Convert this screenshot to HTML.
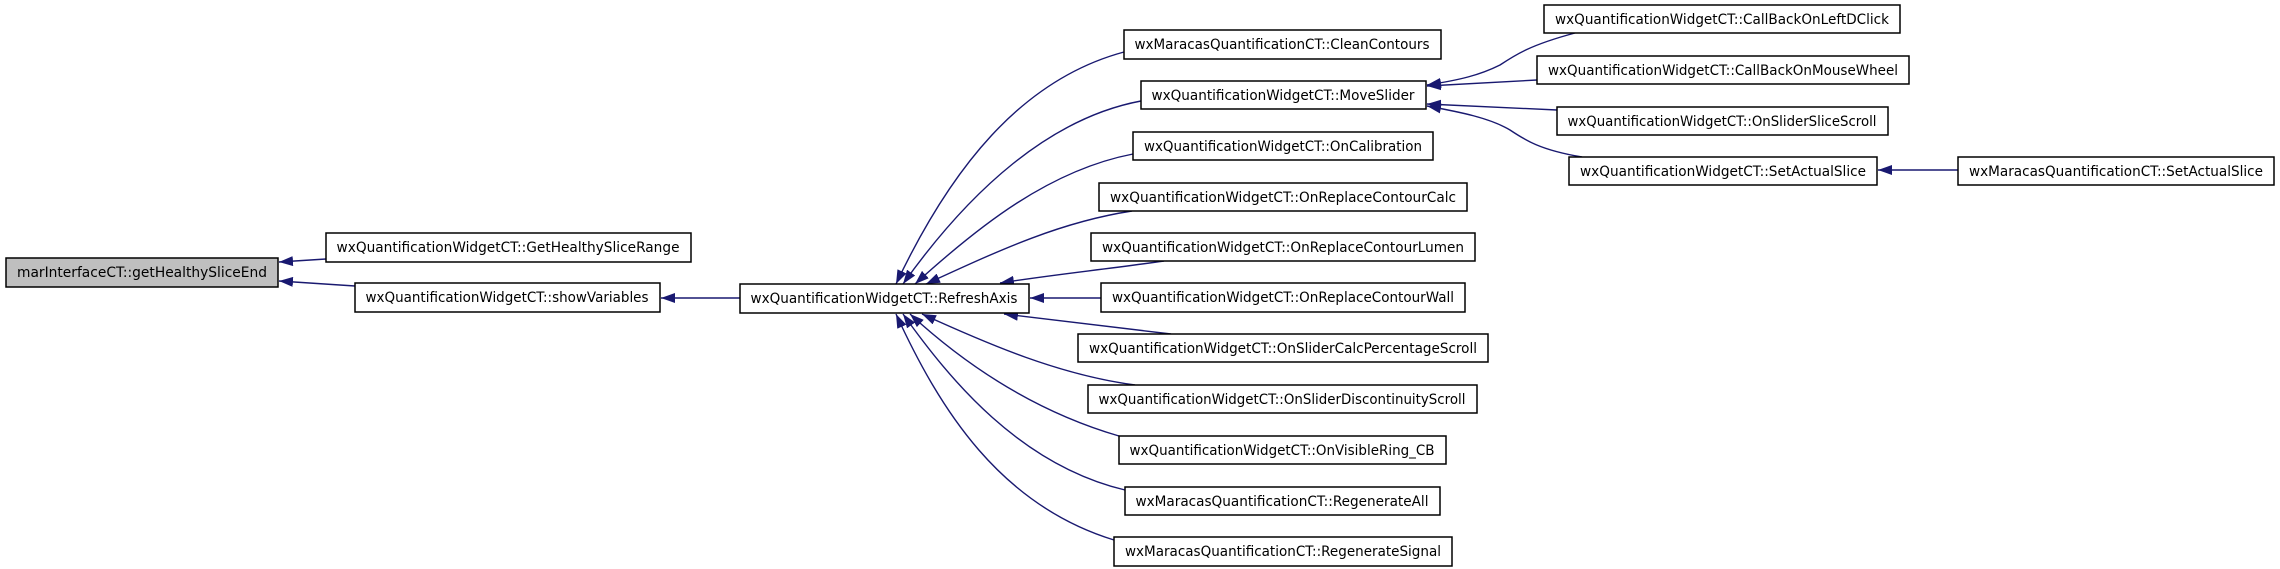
<!DOCTYPE html>
<html><head><meta charset="utf-8"><style>
html,body{margin:0;padding:0;background:#fff;}
svg{display:block;}
text{font-family:"DejaVu Sans","Liberation Sans",sans-serif;font-size:14px;fill:#000;}
</style></head><body>
<svg width="2280" height="569" viewBox="0 0 2280 569" xmlns="http://www.w3.org/2000/svg">
<defs>
<marker id="a" markerWidth="14" markerHeight="10" refX="14" refY="5" orient="auto" markerUnits="userSpaceOnUse">
<path d="M0,0 L14,5 L0,10 Z" fill="#191970"/>
</marker>
</defs>
<g fill="none" stroke="#191970" stroke-width="1.4" marker-end="url(#a)">
<path d="M326,259 L279,262"/>
<path d="M355,286 L279,281"/>
<path d="M740,298 L661,298"/>
<path d="M1124,52 C1020,80 950,170 896,284"/>
<path d="M1141,101 C1050,118 970,190 903,284"/>
<path d="M1133,154 C1050,170 980,225 915,284"/>
<path d="M1132,211 C1060,222 1000,250 926,284"/>
<path d="M1164,261 C1100,270 1050,275 1000,283"/>
<path d="M1101,298 L1030,298"/>
<path d="M1171,334 C1100,326 1050,320 1004,314"/>
<path d="M1135,385 C1060,375 990,345 922,314"/>
<path d="M1119,436 C1030,410 960,360 910,314"/>
<path d="M1125,490 C1020,465 950,380 903,314"/>
<path d="M1114,540 C1000,505 940,410 896,314"/>
<path d="M1575,33 C1530,45 1515,55 1500,65 C1480,75 1460,80 1427,85"/>
<path d="M1537,80 L1427,86"/>
<path d="M1557,110 L1427,104"/>
<path d="M1582,157 C1540,150 1525,140 1510,130 C1490,118 1460,112 1427,106"/>
<path d="M1958,170 L1878,170"/>
</g>
<g stroke="#000" stroke-width="1.5">
<rect x="6" y="258" width="272" height="29" fill="#bfbfbf"/>
<rect x="326" y="233" width="365" height="29" fill="#fff"/>
<rect x="355" y="283" width="305" height="29" fill="#fff"/>
<rect x="740" y="284" width="289" height="29" fill="#fff"/>
<rect x="1124" y="30" width="317" height="29" fill="#fff"/>
<rect x="1141" y="81" width="285" height="28" fill="#fff"/>
<rect x="1133" y="132" width="300" height="28" fill="#fff"/>
<rect x="1099" y="183" width="368" height="28" fill="#fff"/>
<rect x="1091" y="233" width="384" height="28" fill="#fff"/>
<rect x="1101" y="283" width="364" height="29" fill="#fff"/>
<rect x="1078" y="334" width="410" height="28" fill="#fff"/>
<rect x="1088" y="385" width="389" height="28" fill="#fff"/>
<rect x="1119" y="436" width="327" height="28" fill="#fff"/>
<rect x="1125" y="487" width="315" height="28" fill="#fff"/>
<rect x="1114" y="537" width="338" height="29" fill="#fff"/>
<rect x="1544" y="5" width="356" height="28" fill="#fff"/>
<rect x="1537" y="56" width="372" height="28" fill="#fff"/>
<rect x="1557" y="107" width="331" height="28" fill="#fff"/>
<rect x="1569" y="157" width="308" height="28" fill="#fff"/>
<rect x="1958" y="157" width="316" height="28" fill="#fff"/>
</g>
<g text-anchor="middle">
<text x="142" y="277" textLength="250" lengthAdjust="spacingAndGlyphs">marInterfaceCT::getHealthySliceEnd</text>
<text x="508" y="252" textLength="343" lengthAdjust="spacingAndGlyphs">wxQuantificationWidgetCT::GetHealthySliceRange</text>
<text x="507" y="302" textLength="283" lengthAdjust="spacingAndGlyphs">wxQuantificationWidgetCT::showVariables</text>
<text x="884" y="303" textLength="267" lengthAdjust="spacingAndGlyphs">wxQuantificationWidgetCT::RefreshAxis</text>
<text x="1282" y="49" textLength="295" lengthAdjust="spacingAndGlyphs">wxMaracasQuantificationCT::CleanContours</text>
<text x="1283" y="100" textLength="263" lengthAdjust="spacingAndGlyphs">wxQuantificationWidgetCT::MoveSlider</text>
<text x="1283" y="151" textLength="278" lengthAdjust="spacingAndGlyphs">wxQuantificationWidgetCT::OnCalibration</text>
<text x="1283" y="202" textLength="346" lengthAdjust="spacingAndGlyphs">wxQuantificationWidgetCT::OnReplaceContourCalc</text>
<text x="1283" y="252" textLength="362" lengthAdjust="spacingAndGlyphs">wxQuantificationWidgetCT::OnReplaceContourLumen</text>
<text x="1283" y="302" textLength="342" lengthAdjust="spacingAndGlyphs">wxQuantificationWidgetCT::OnReplaceContourWall</text>
<text x="1283" y="353" textLength="388" lengthAdjust="spacingAndGlyphs">wxQuantificationWidgetCT::OnSliderCalcPercentageScroll</text>
<text x="1282" y="404" textLength="367" lengthAdjust="spacingAndGlyphs">wxQuantificationWidgetCT::OnSliderDiscontinuityScroll</text>
<text x="1282" y="455" textLength="305" lengthAdjust="spacingAndGlyphs">wxQuantificationWidgetCT::OnVisibleRing_CB</text>
<text x="1282" y="506" textLength="293" lengthAdjust="spacingAndGlyphs">wxMaracasQuantificationCT::RegenerateAll</text>
<text x="1283" y="556" textLength="316" lengthAdjust="spacingAndGlyphs">wxMaracasQuantificationCT::RegenerateSignal</text>
<text x="1722" y="24" textLength="334" lengthAdjust="spacingAndGlyphs">wxQuantificationWidgetCT::CallBackOnLeftDClick</text>
<text x="1723" y="75" textLength="350" lengthAdjust="spacingAndGlyphs">wxQuantificationWidgetCT::CallBackOnMouseWheel</text>
<text x="1722" y="126" textLength="309" lengthAdjust="spacingAndGlyphs">wxQuantificationWidgetCT::OnSliderSliceScroll</text>
<text x="1723" y="176" textLength="286" lengthAdjust="spacingAndGlyphs">wxQuantificationWidgetCT::SetActualSlice</text>
<text x="2116" y="176" textLength="294" lengthAdjust="spacingAndGlyphs">wxMaracasQuantificationCT::SetActualSlice</text>
</g>
</svg>
</body></html>
